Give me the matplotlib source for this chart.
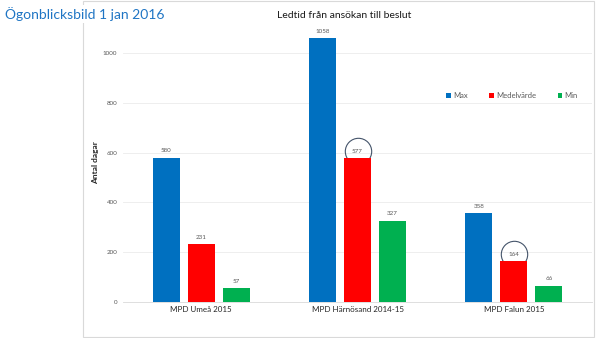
import matplotlib
matplotlib.use('Agg')
import matplotlib.pyplot as plt
import numpy as np
from matplotlib.patches import Rectangle

plt.rcParams['font.family'] = ['Lato', 'DejaVu Sans']

categories = ['MPD Umeå 2015', 'MPD Härnösand 2014-15', 'MPD Falun 2015']
series_names = ['Max', 'Medelvärde', 'Min']
max_vals = [580, 1058, 358]
mean_vals = [231, 577, 164]
min_vals = [57, 327, 66]
yticks = [0, 200, 400, 600, 800, 1000]

colors = ['#0070C0', '#FF0000', '#00B050']
label_grey = '#595959'

fig = plt.figure(figsize=(6, 3.38), dpi=100)
ax = fig.add_axes([0.205, 0.1065, 0.7817, 0.8107])

x = np.arange(len(categories))
width = 0.1725
pitch = 0.224
all_vals = [max_vals, mean_vals, min_vals]
for i, (name, vals) in enumerate(zip(series_names, all_vals)):
    bars = ax.bar(x + (i - 1) * pitch, vals, width, color=colors[i], label=name, zorder=3)
    for b, v in zip(bars, vals):
        ax.annotate(str(v), (b.get_x() + b.get_width() / 2, v), xytext=(0, 3),
                    textcoords='offset points', ha='center', va='bottom',
                    fontsize=4.5, color=label_grey, zorder=5)

# circles around the mean values of Härnösand and Falun (partly hidden by the bar)
for j in [1, 2]:
    ax.plot(x[j], mean_vals[j] + 29, 'o', ms=19, mfc='none', mec='#44546A', mew=0.8, zorder=2)

ax.set_xlim(-0.5, 2.5)
ax.set_ylim(0, 1100)
ax.set_yticks(yticks)
ax.set_yticklabels([str(t) for t in yticks], fontsize=4.5, color=label_grey)
ax.set_xticks(x)
ax.set_xticklabels(categories, fontsize=5.8, color='#262626')
ax.tick_params(axis='both', length=0, pad=4)
ax.tick_params(axis='x', pad=3)
ax.grid(axis='y', color='#EBEBEB', lw=0.6, zorder=0)
for s in ['top', 'right', 'left']:
    ax.spines[s].set_visible(False)
ax.spines['bottom'].set_color('#D9D9D9')
ax.spines['bottom'].set_linewidth(0.6)

leg = ax.legend(loc='center', bbox_to_anchor=(512 / 600, 242 / 338), bbox_transform=fig.transFigure,
                ncol=3, frameon=False, fontsize=5.5, handlelength=0.6, handleheight=0.6,
                handletextpad=0.3, columnspacing=2.8)
for t in leg.get_texts():
    t.set_color(label_grey)

fig.patches.append(Rectangle((83 / 600, 1 / 338), 511 / 600, 336 / 338, transform=fig.transFigure,
                             fill=False, edgecolor='#D9D9D9', lw=0.8, zorder=0))

fig.text(344 / 600, 1 - 16 / 338, 'Ledtid från ansökan till beslut', ha='center', va='center',
         fontsize=7.5, color='#1a1a1a')
fig.text(96 / 600, 1 - 163 / 338, 'Antal dagar', rotation=90, ha='center', va='center',
         fontsize=6, fontweight='bold', color='#262626')
fig.text(5 / 600, 1 - 14 / 338, 'Ögonblicksbild 1 jan 2016', ha='left', va='center',
         fontsize=10, color='#1F75C4',
         bbox=dict(facecolor='white', edgecolor='none', pad=1.5))

fig.savefig('out.png', dpi=100)
